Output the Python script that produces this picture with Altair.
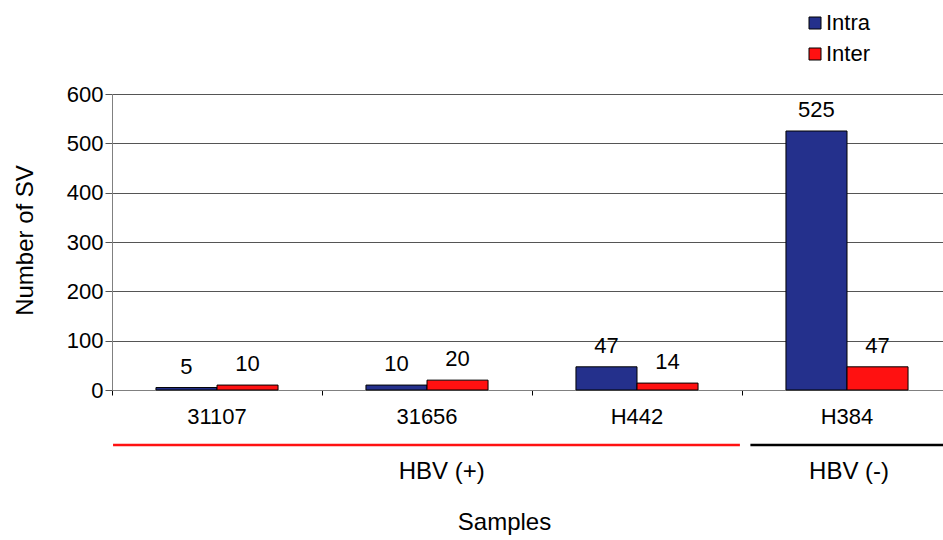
import altair as alt
import pandas as pd

samples = ["31107", "31656", "H442", "H384"]
intra = [5, 10, 47, 525]
inter = [10, 20, 14, 47]
series = ["Intra", "Inter"]
colors = ["#24308C", "#FF1111"]
y_ticks = [0, 100, 200, 300, 400, 500, 600]

rows = []
for s, a, b in zip(samples, intra, inter):
    rows.append({"sample": s, "series": "Intra", "value": a})
    rows.append({"sample": s, "series": "Inter", "value": b})
df = pd.DataFrame(rows)

FONT = "Liberation Sans"

xscale = alt.Scale(domain=samples, range=[0, 840], paddingInner=0, paddingOuter=0)
offscale = alt.Scale(domain=series, paddingOuter=0.72, paddingInner=0)

base = alt.Chart(df)

bars = base.mark_bar(stroke="black", strokeWidth=1).encode(
    x=alt.X("sample:N", scale=xscale, sort=samples,
            axis=alt.Axis(title="Samples", bandPosition=0, tickSize=5, tickColor="#000",
                          domainColor="#808080", labelAngle=0, labelPadding=11,
                          labelFontSize=22, labelFont=FONT, labelColor="#000",
                          titleFontSize=24, titleFont=FONT, titleFontWeight="normal",
                          titleX=392, titleY=139, titleBaseline="alphabetic",
                          titleColor="#000", grid=False)),
    xOffset=alt.XOffset("series:N", scale=offscale, sort=series),
    y=alt.Y("value:Q", scale=alt.Scale(domain=[0, 600], nice=False),
            axis=alt.Axis(title="Number of SV", values=y_ticks, tickSize=7, tickColor="#555",
                          domainColor="#808080", labelPadding=2, labelFontSize=22,
                          labelFont=FONT, labelColor="#000", gridColor="#555",
                          titleFontSize=24, titleFont=FONT, titleFontWeight="normal",
                          titleX=-80, titleY=146, titleBaseline="alphabetic",
                          titleColor="#000")),
    color=alt.Color("series:N", sort=series,
                    scale=alt.Scale(domain=series, range=colors),
                    legend=alt.Legend(title=None, orient="none", legendX=692, legendY=-82,
                                      symbolType="square", symbolSize=144,
                                      symbolStrokeColor="black", symbolStrokeWidth=1,
                                      symbolOpacity=1,
                                      labelFontSize=22, labelFont=FONT, labelColor="#000",
                                      labelOffset=0, rowPadding=9, padding=0)),
)

labels = base.mark_text(fontSize=22, font=FONT, color="black", baseline="alphabetic", dy=-14).encode(
    x=alt.X("sample:N", scale=xscale, sort=samples),
    xOffset=alt.XOffset("series:N", scale=offscale, sort=series),
    y=alt.Y("value:Q"),
    text=alt.Text("value:Q"),
)

grp_pos = pd.DataFrame({"start": ["31107"], "end": ["H442"], "label": ["HBV (+)"], "mid": ["31656"]})
grp_neg = pd.DataFrame({"start": ["H384"], "end": ["H384"], "label": ["HBV (-)"], "mid": ["H384"]})

line_pos = alt.Chart(grp_pos).mark_rule(color="#FF1111", strokeWidth=2.5).encode(
    x=alt.X("start:N", scale=xscale, bandPosition=0.005),
    x2=alt.X2("end:N", bandPosition=0.99),
    y=alt.value(351),
)
line_neg = alt.Chart(grp_neg).mark_rule(color="black", strokeWidth=2.5).encode(
    x=alt.X("start:N", scale=xscale, bandPosition=0.04),
    x2=alt.X2("end:N", bandPosition=1),
    y=alt.value(351),
)
text_pos = alt.Chart(grp_pos).mark_text(fontSize=24, font=FONT, color="black", baseline="alphabetic").encode(
    x=alt.X("mid:N", scale=xscale, bandPosition=0.57),
    y=alt.value(385),
    text="label:N",
)
text_neg = alt.Chart(grp_neg).mark_text(fontSize=24, font=FONT, color="black", baseline="alphabetic").encode(
    x=alt.X("mid:N", scale=xscale, bandPosition=0.51),
    y=alt.value(385),
    text="label:N",
)

chart = alt.layer(bars, labels, line_pos, line_neg, text_pos, text_neg).properties(
    width=831, height=296,
    autosize=alt.AutoSizeParams(type="none"),
    padding={"left": 112, "top": 94, "right": 0, "bottom": 150},
    background="white",
).configure_view(stroke=None)

chart.save("out.html", embed_options={"renderer": "svg", "actions": False})
